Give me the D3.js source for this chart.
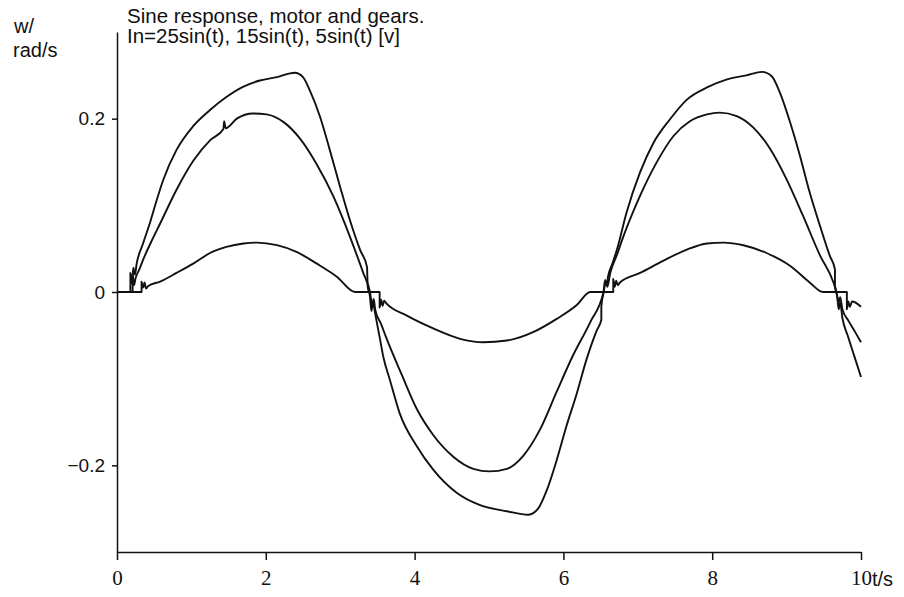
<!DOCTYPE html>
<html>
<head>
  <meta charset="utf-8">
  <title>Sine response, motor and gears</title>
  <style>
    body { margin: 0; background: #fff; }
    .curve { fill: none; stroke: #111; stroke-width: 1.9px; stroke-linejoin: round; }
    .axis path, .axis line { stroke: #111; stroke-width: 1.5px; }
    .label { font-family: "Liberation Sans", Arial, sans-serif; fill: #111; }
    .xaxis text { font-family: "Liberation Serif", "Times New Roman", serif; font-size: 21px; fill: #111; }
    .yaxis text { font-family: "Liberation Sans", Arial, sans-serif; font-size: 19px; fill: #111; }
  </style>
  <script src="https://d3js.org/d3.v7.min.js"></script>
</head>
<body>
  <script>
    // [t, w] pairs
    var input25 = [
      [0,0],[0.18,0],[0.18,0.022],[0.2,0.010],[0.22,0.028],[0.24,0.02],[0.265,0.033],[0.35,0.056],
      [0.44,0.079],[0.53,0.105],[0.62,0.129],[0.80,0.164],[1.02,0.191],[1.25,0.210],[1.47,0.225],
      [1.70,0.237],[1.92,0.244],[2.15,0.248],[2.39,0.253],[2.50,0.248],[2.59,0.233],[2.73,0.202],
      [2.86,0.164],[3.0,0.121],[3.13,0.083],[3.27,0.048],[3.36,0.029],[3.37,0.006],[3.40,-0.005],
      [3.42,-0.022],[3.44,-0.012],[3.47,-0.025],[3.53,-0.052],[3.58,-0.075],[3.67,-0.102],
      [3.80,-0.140],[4.03,-0.178],[4.25,-0.205],[4.57,-0.232],[4.88,-0.246],[5.24,-0.253],
      [5.53,-0.257],[5.66,-0.250],[5.78,-0.228],[5.91,-0.194],[6.04,-0.155],[6.18,-0.117],
      [6.31,-0.078],[6.45,-0.044],[6.51,-0.032],[6.51,-0.017],[6.54,0],[6.56,0.014],[6.58,0.008],
      [6.60,0.018],[6.66,0.033],[6.72,0.049],[6.85,0.092],[7.03,0.138],[7.21,0.172],[7.43,0.199],
      [7.66,0.222],[7.93,0.236],[8.19,0.245],[8.46,0.250],[8.67,0.254],[8.80,0.249],[8.91,0.230],
      [9.05,0.195],[9.18,0.157],[9.31,0.115],[9.45,0.076],[9.58,0.042],[9.65,0.026],[9.65,0.007],
      [9.68,-0.005],[9.70,-0.02],[9.72,-0.012],[9.75,-0.03],[9.82,-0.05],[9.91,-0.074],[10,-0.098]
    ];
    var input15 = [
      [0,0],[0.21,0],[0.21,0.02],[0.23,0.008],[0.25,0.016],[0.30,0.026],[0.35,0.037],[0.46,0.058],
      [0.58,0.079],[0.80,0.118],[1.03,0.152],[1.25,0.175],[1.43,0.188],[1.44,0.197],[1.46,0.189],
      [1.61,0.200],[1.83,0.206],[2.01,0.205],[2.24,0.196],[2.46,0.177],[2.68,0.148],[2.91,0.110],
      [3.13,0.064],[3.31,0.022],[3.40,0],[3.43,-0.015],[3.45,-0.008],[3.47,-0.02],[3.55,-0.037],
      [3.62,-0.053],[3.83,-0.096],[4.03,-0.135],[4.25,-0.165],[4.52,-0.190],[4.79,-0.204],
      [5.01,-0.207],[5.24,-0.204],[5.46,-0.189],[5.69,-0.158],[5.91,-0.115],[6.13,-0.073],
      [6.36,-0.035],[6.54,0],[6.57,0.012],[6.59,0.006],[6.63,0.022],[6.72,0.043],[6.81,0.065],
      [7.03,0.111],[7.25,0.149],[7.48,0.180],[7.70,0.197],[7.93,0.205],[8.10,0.207],[8.33,0.203],
      [8.55,0.190],[8.78,0.165],[9.0,0.130],[9.22,0.088],[9.45,0.042],[9.63,0.011],[9.67,0],
      [9.70,-0.012],[9.72,-0.006],[9.75,-0.02],[9.83,-0.033],[9.92,-0.046],[10,-0.058]
    ];
    var input5 = [
      [0,0],[0.33,0],[0.33,0.012],[0.35,0.005],[0.37,0.011],[0.39,0.004],[0.42,0.007],[0.58,0.012],
      [0.80,0.022],[1.03,0.033],[1.25,0.045],[1.47,0.052],[1.70,0.056],[1.88,0.057],[2.15,0.054],
      [2.42,0.046],[2.68,0.033],[2.95,0.018],[3.20,0],[3.53,0],[3.53,-0.018],[3.55,-0.009],
      [3.57,-0.016],[3.59,-0.010],[3.62,-0.013],[3.89,-0.027],[4.25,-0.042],[4.61,-0.054],
      [4.92,-0.058],[5.24,-0.056],[5.60,-0.046],[5.91,-0.031],[6.18,-0.015],[6.36,0],[6.67,0],
      [6.67,0.015],[6.69,0.006],[6.71,0.013],[6.73,0.008],[6.76,0.011],[7.03,0.022],[7.34,0.036],
      [7.66,0.049],[7.93,0.056],[8.15,0.057],[8.42,0.054],[8.73,0.045],[9.05,0.030],[9.31,0.011],
      [9.49,0],[9.81,0],[9.81,-0.02],[9.83,-0.011],[9.85,-0.017],[9.88,-0.011],[10,-0.017]
    ];
    var xTicks = [0, 2, 4, 6, 8, 10];
    var yTicks = [-0.2, 0, 0.2];
    var yTickLabels = ["\u22120.2", "0", "0.2"];
    var titleLines = ["Sine response, motor and gears.", "In=25sin(t), 15sin(t), 5sin(t)  [v]"];

    var width = 904, height = 597;
    var svg = d3.select("body").append("svg")
      .attr("width", width)
      .attr("height", height);

    var x = d3.scaleLinear().domain([0, 10]).range([117, 861]);
    var y = d3.scaleLinear().domain([-0.3, 0.3]).range([552, 32]);

    svg.append("g")
      .attr("class", "axis xaxis")
      .attr("transform", "translate(0," + y(-0.3) + ")")
      .call(d3.axisBottom(x).tickValues(xTicks).tickSize(8).tickSizeOuter(0).tickPadding(6))
      .selectAll("text").attr("dy", "0.9em");

    svg.append("g")
      .attr("class", "axis yaxis")
      .attr("transform", "translate(" + x(0) + ",0)")
      .call(d3.axisLeft(y).tickValues(yTicks).tickSize(5).tickSizeOuter(0).tickPadding(7)
        .tickFormat(function(d, i) { return yTickLabels[i]; }));

    var line = d3.line()
      .curve(d3.curveMonotoneX)
      .x(function(d) { return x(d[0]); })
      .y(function(d) { return y(d[1]); });

    [input25, input15, input5].forEach(function(s) {
      svg.append("path").attr("class", "curve").attr("d", line(s));
    });

    // titles and axis names
    svg.selectAll(".title")
      .data(titleLines)
      .enter().append("text")
        .attr("class", "label")
        .attr("x", 127)
        .attr("y", function(d, i) { return 23 + i * 20; })
        .style("font-size", "20.5px")
        .text(function(d) { return d; });

    svg.append("text").attr("class", "label")
      .attr("x", 14).attr("y", 33).style("font-size", "20px").text("w/");
    svg.append("text").attr("class", "label")
      .attr("x", 13).attr("y", 57).style("font-size", "20px").text("rad/s");
    svg.append("text").attr("class", "label")
      .attr("x", 872).attr("y", 586).style("font-size", "20px").text("t/s");
  </script>
</body>
</html>
